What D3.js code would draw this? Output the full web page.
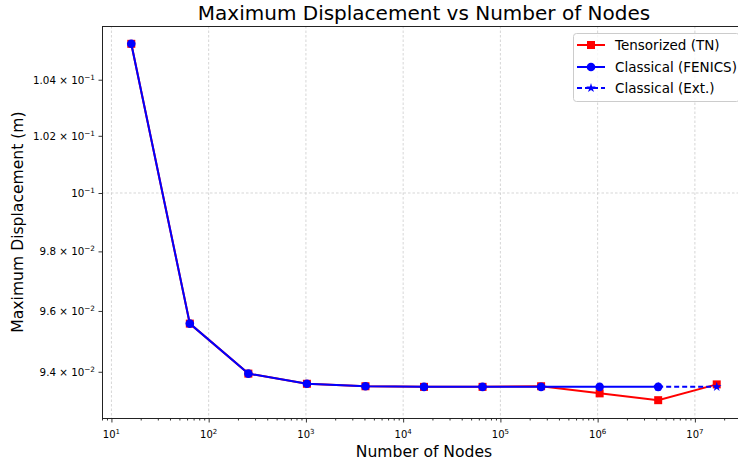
<!DOCTYPE html>
<html><head><meta charset="utf-8">
<script src="https://cdn.jsdelivr.net/npm/d3@7"></script>
<style>
html,body{margin:0;padding:0;background:#fff;overflow:hidden;}
text{font-family:"DejaVu Sans",sans-serif;}
</style></head>
<body><svg id="c" width="738" height="466"></svg>
<script>
const nodes = [16, 64, 256, 1024, 4096, 16384, 65536, 262144, 1048576, 4194304, 16777216];
const tnValues = [0.10530, 0.09558, 0.09394, 0.09361, 0.09353, 0.09351, 0.09351, 0.09353, 0.09330, 0.09308, 0.09359];
const fenicsNodes = [16, 64, 256, 1024, 4096, 16384, 65536, 262144, 1048576, 4194304];
const fenicsValues = [0.10530, 0.09558, 0.09394, 0.09361, 0.09353, 0.09351, 0.09351, 0.09351, 0.09351, 0.09351];
const extNodes = [4194304, 16777216];
const extValues = [0.09351, 0.09351];
const xTicks = [1e1, 1e2, 1e3, 1e4, 1e5, 1e6, 1e7];
const xTickExp = ["1", "2", "3", "4", "5", "6", "7"];
const yTicks = [0.094, 0.096, 0.098, 0.100, 0.102, 0.104];
const yTickMant = ["9.4", "9.6", "9.8", "", "1.02", "1.04"];
const yTickExp = ["−2", "−2", "−2", "−1", "−1", "−1"];
const legendLabels = ["Tensorized (TN)", "Classical (FENICS)", "Classical (Ext.)"];

const svg = d3.select("#c");
const L = 102, R = 746, T = 26, B = 418;

const lx = d3.extent(nodes).map(Math.log10);
const mx = (lx[1]-lx[0])*0.05;
const x = d3.scaleLog().domain([Math.pow(10,lx[0]-mx), Math.pow(10,lx[1]+mx)]).range([L, R]);
const allY = tnValues.concat(fenicsValues, extValues);
const ly = d3.extent(allY).map(Math.log10);
const my = (ly[1]-ly[0])*0.05;
const y = d3.scaleLog().domain([Math.pow(10,ly[0]-my), Math.pow(10,ly[1]+my)]).range([B, T]);

// grid
const g = svg.append("g");
xTicks.forEach(t => {
  g.append("line").attr("x1", x(t)).attr("x2", x(t)).attr("y1", T).attr("y2", B)
   .attr("stroke", "#c4c4c4").attr("stroke-width", 0.7).attr("stroke-dasharray", "2.5,2");
});
g.append("line").attr("x1", L).attr("x2", R).attr("y1", y(0.1)).attr("y2", y(0.1))
   .attr("stroke", "#c4c4c4").attr("stroke-width", 0.7).attr("stroke-dasharray", "2.5,2");

// axes
const xAxis = d3.axisBottom(x).tickValues(xTicks).tickSize(4.5).tickFormat("");
const minorX = [];
for (let e = 0; e <= 7; e++) for (let m = 2; m <= 9; m++) { const v = m*Math.pow(10,e); if (v > x.domain()[0] && v < x.domain()[1]) minorX.push(v); }
const xMinor = d3.axisBottom(x).tickValues(minorX).tickSize(2.5).tickFormat("");
const gx = svg.append("g").attr("transform", `translate(0,${B})`).call(xAxis);
const gxm = svg.append("g").attr("transform", `translate(0,${B})`).call(xMinor);
[gx, gxm].forEach(a => { a.select(".domain").remove(); a.selectAll("line").attr("stroke", "#000").attr("stroke-width", 0.8); });

xTicks.forEach((t, i) => {
  const tx = svg.append("text").attr("x", x(t)).attr("y", B + 20).attr("text-anchor", "middle")
    .attr("font-size", 10).attr("fill", "#000");
  tx.append("tspan").text("10");
  tx.append("tspan").attr("dy", -4).attr("font-size", 7).text(xTickExp[i]);
});

const yAxis = d3.axisLeft(y).tickValues(yTicks).tickSize(3.5).tickFormat("");
const gy = svg.append("g").attr("transform", `translate(${L},0)`).call(yAxis);
gy.select(".domain").remove();
gy.selectAll("line").attr("stroke", "#000").attr("stroke-width", 0.8);
yTicks.forEach((t, i) => {
  const tx = svg.append("text").attr("x", L - 7).attr("y", y(t) + 4).attr("text-anchor", "end")
    .attr("font-size", 10.3).attr("fill", "#000");
  if (yTickMant[i]) tx.append("tspan").text(yTickMant[i] + " × 10");
  else tx.append("tspan").text("10");
  tx.append("tspan").attr("dy", -4).attr("font-size", 7.3).text(yTickExp[i]);
});

// spines (left, top, bottom; right edge lies beyond the picture)
const sp = svg.append("g").attr("stroke", "#222").attr("stroke-width", 1);
sp.append("line").attr("x1", L + 0.5).attr("x2", L + 0.5).attr("y1", T).attr("y2", B);
sp.append("line").attr("x1", L).attr("x2", 738).attr("y1", T + 0.5).attr("y2", T + 0.5);
sp.append("line").attr("x1", L).attr("x2", 738).attr("y1", B + 0.5).attr("y2", B + 0.5);

// data
const line = d3.line().x(d => x(d[0])).y(d => y(d[1]));
const tn = nodes.map((n, i) => [n, tnValues[i]]);
const fe = fenicsNodes.map((n, i) => [n, fenicsValues[i]]);
const ex = extNodes.map((n, i) => [n, extValues[i]]);

svg.append("path").datum(tn).attr("d", line).attr("fill", "none").attr("stroke", "#ff0000").attr("stroke-width", 2);
svg.selectAll(".sq").data(tn).enter().append("rect")
  .attr("x", d => x(d[0]) - 4).attr("y", d => y(d[1]) - 4).attr("width", 8).attr("height", 8).attr("fill", "#ff0000");

svg.append("path").datum(fe).attr("d", line).attr("fill", "none").attr("stroke", "#0000ff").attr("stroke-width", 2);
svg.selectAll(".ci").data(fe).enter().append("circle")
  .attr("cx", d => x(d[0])).attr("cy", d => y(d[1])).attr("r", 4.3).attr("fill", "#0000ff");

svg.append("path").datum(ex).attr("d", line).attr("fill", "none").attr("stroke", "#0000ff").attr("stroke-width", 2).attr("stroke-dasharray", "5,3");
const star = d3.symbol().type(d3.symbolStar).size(28);
svg.selectAll(".st").data(ex).enter().append("path")
  .attr("transform", d => `translate(${x(d[0])},${y(d[1])})`).attr("d", star).attr("fill", "#0000ff");

// legend
const lg = svg.append("g");
lg.append("rect").attr("x", 573.5).attr("y", 33.5).attr("width", 166).attr("height", 68).attr("rx", 3)
  .attr("fill", "#fff").attr("fill-opacity", 0.8).attr("stroke", "#cccccc").attr("stroke-width", 1);
const rows = [45, 67, 88];
const colors = ["#ff0000", "#0000ff", "#0000ff"];
rows.forEach((ry, i) => {
  const ln = lg.append("line").attr("x1", 577).attr("x2", 605).attr("y1", ry).attr("y2", ry)
    .attr("stroke", colors[i]).attr("stroke-width", 2);
  if (i === 2) ln.attr("stroke-dasharray", "5,3");
  if (i === 0) lg.append("rect").attr("x", 587).attr("y", ry - 4).attr("width", 8).attr("height", 8).attr("fill", "#ff0000");
  if (i === 1) lg.append("circle").attr("cx", 591).attr("cy", ry).attr("r", 4.3).attr("fill", "#0000ff");
  if (i === 2) lg.append("path").attr("transform", `translate(591,${ry})`).attr("d", star).attr("fill", "#0000ff");
  lg.append("text").attr("x", 615).attr("y", ry + 5).attr("font-size", 13.5).attr("fill", "#000").text(legendLabels[i]);
});

// titles
svg.append("text").attr("x", 424).attr("y", 20).attr("text-anchor", "middle").attr("font-size", 20).attr("fill", "#000")
  .text("Maximum Displacement vs Number of Nodes");
svg.append("text").attr("x", 424).attr("y", 457).attr("text-anchor", "middle").attr("font-size", 15.6).attr("fill", "#000")
  .text("Number of Nodes");
svg.append("text").attr("transform", "translate(23,222) rotate(-90)").attr("text-anchor", "middle").attr("font-size", 15.6).attr("fill", "#000")
  .text("Maximum Displacement (m)");
</script></body></html>
